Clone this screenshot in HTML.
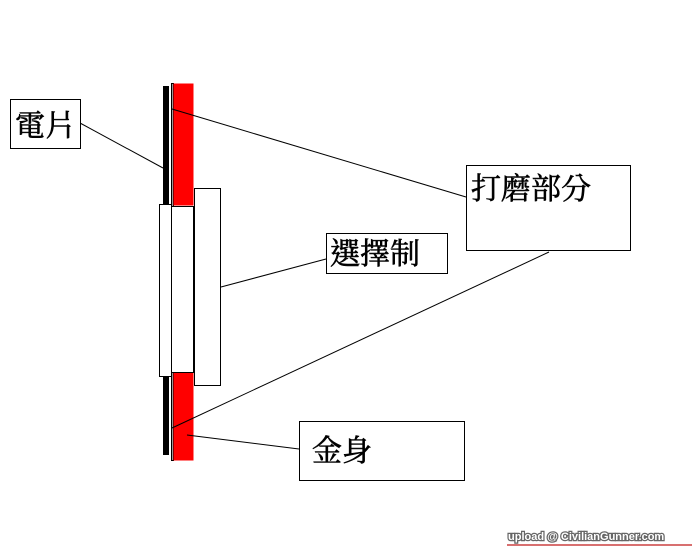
<!DOCTYPE html>
<html><head><meta charset="utf-8"><style>
body{margin:0;background:#fff;}
svg text{font-family:"Liberation Serif","Noto Serif CJK TC","Noto Serif CJK SC",serif;font-size:30px;fill:#000;stroke:#000;stroke-width:0.6;}
</style></head><body>
<svg width="698" height="551" viewBox="0 0 698 551" xmlns="http://www.w3.org/2000/svg">
<rect x="0" y="0" width="698" height="551" fill="#fff"/>
<rect x="163" y="86" width="6" height="369" fill="#000"/>
<rect x="171.5" y="83.5" width="2" height="377" fill="#999" stroke="#000" stroke-width="1"/>
<rect x="173.5" y="83.5" width="20" height="122" fill="#f00"/>
<rect x="173.5" y="372.5" width="20" height="88" fill="#f00"/>
<rect x="159.5" y="204.5" width="12" height="172" fill="#fff" stroke="#000"/>
<rect x="171.5" y="206.5" width="22" height="166" fill="#fff" stroke="#000"/>
<rect x="194.5" y="188.5" width="26" height="197" fill="#fff" stroke="#000"/>
<g stroke="#000" stroke-width="1">
<line x1="80" y1="123" x2="163" y2="168"/>
<line x1="172" y1="109" x2="466" y2="197"/>
<line x1="549" y1="252" x2="172" y2="428"/>
<line x1="221" y1="287" x2="326" y2="259"/>
<line x1="187" y1="435" x2="299" y2="449"/>
</g>
<g fill="#fff" stroke="#000">
<rect x="10.5" y="99.5" width="70" height="49"/>
<rect x="466.5" y="165.5" width="164" height="85"/>
<rect x="326.5" y="233.5" width="121" height="40"/>
<rect x="299.5" y="421.5" width="165" height="59"/>
</g>
<text x="15" y="136">電片</text>
<text x="471" y="199">打磨部分</text>
<text x="330" y="264">選擇制</text>
<text x="312" y="461">金身</text>
<text x="508" y="540" style="font-family:'Liberation Sans',sans-serif;font-size:11px;font-weight:bold;fill:#fff;stroke:#666;stroke-width:2.5;paint-order:stroke">upload @ CivilianGunner.com</text>
<line x1="507" y1="545" x2="692" y2="545" stroke="#d87070" stroke-width="2"/>
</svg>
</body></html>
